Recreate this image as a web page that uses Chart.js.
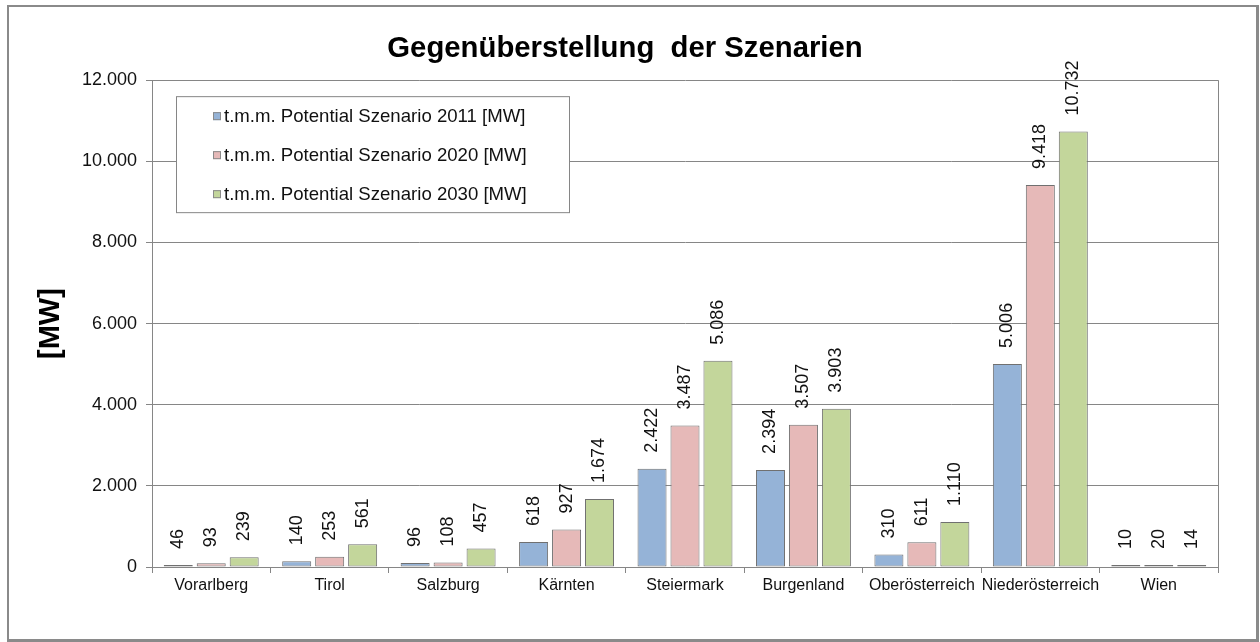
<!DOCTYPE html>
<html>
<head>
<meta charset="utf-8">
<title>Gegenüberstellung der Szenarien</title>
<script src="https://cdn.jsdelivr.net/npm/chart.js@4.4.1/dist/chart.umd.min.js"></script>
<style>
  html, body { margin: 0; padding: 0; background: #fff; }
  #wrap { position: relative; width: 1260px; height: 642px; }
  #frame {
    position: absolute; left: 7px; top: 5px; width: 1252px; height: 637px;
    border: 2px solid #8a8a8a; border-right-width: 3px; border-bottom-width: 3px;
    box-sizing: border-box; pointer-events: none;
  }
</style>
</head>
<body>
<div id="wrap">
  <canvas id="chart"></canvas>
  <div id="frame"></div>
</div>
<script>
// Data
const regions = ['Vorarlberg', 'Tirol', 'Salzburg', 'Kärnten', 'Steiermark', 'Burgenland', 'Oberösterreich', 'Niederösterreich', 'Wien'];
const szenario2011 = [46, 140, 96, 618, 2422, 2394, 310, 5006, 10];
const szenario2020 = [93, 253, 108, 927, 3487, 3507, 611, 9418, 20];
const szenario2030 = [239, 561, 457, 1674, 5086, 3903, 1110, 10732, 14];
const seriesNames = ['t.m.m. Potential Szenario 2011 [MW]', 't.m.m. Potential Szenario 2020 [MW]', 't.m.m. Potential Szenario 2030 [MW]'];
const yTickLabels = ['0', '2.000', '4.000', '6.000', '8.000', '10.000', '12.000'];

const seriesColors = ['#95b3d7', '#e6b9b8', '#c3d69b'];
const lineGrey = '#868686';
const textColor = '#111';

Chart.defaults.font.family = "'Liberation Sans', Arial, sans-serif";

// German thousands separator
const fmt = n => String(n).replace(/\B(?=(\d{3})+(?!\d))/g, '.');

// Right border of the plot area
const plotFrame = {
  id: 'plotFrame',
  beforeDatasetsDraw(chart) {
    const { ctx, chartArea: a } = chart;
    ctx.save();
    ctx.strokeStyle = lineGrey;
    ctx.lineWidth = 1;
    ctx.beginPath();
    ctx.moveTo(Math.round(a.right) + 0.5, a.top);
    ctx.lineTo(Math.round(a.right) + 0.5, a.bottom);
    ctx.stroke();
    ctx.restore();
  }
};

// Rotated value labels above the bars
const valueLabels = {
  id: 'valueLabels',
  afterDatasetsDraw(chart) {
    const { ctx } = chart;
    ctx.save();
    ctx.font = "18px 'Liberation Sans', Arial, sans-serif";
    ctx.fillStyle = textColor;
    ctx.textAlign = 'left';
    ctx.textBaseline = 'middle';
    chart.data.datasets.forEach((ds, i) => {
      chart.getDatasetMeta(i).data.forEach((bar, j) => {
        ctx.save();
        ctx.translate(bar.x, bar.y - 16);
        ctx.rotate(-Math.PI / 2);
        ctx.fillText(fmt(ds.data[j]), 0, 0);
        ctx.restore();
      });
    });
    ctx.restore();
  }
};

// Boxed legend inside the plot area
const boxLegend = {
  id: 'boxLegend',
  afterDraw(chart) {
    const { ctx, chartArea: a } = chart;
    const x = a.left + 24, y = a.top + 16, w = 393, h = 116;
    ctx.save();
    ctx.fillStyle = '#fff';
    ctx.fillRect(x, y, w, h);
    ctx.strokeStyle = lineGrey;
    ctx.lineWidth = 1;
    ctx.strokeRect(x + 0.5, y + 0.5, w, h);
    ctx.font = "18.6px 'Liberation Sans', Arial, sans-serif";
    ctx.textBaseline = 'middle';
    ctx.textAlign = 'left';
    chart.data.datasets.forEach((ds, i) => {
      const cy = y + 20 + i * 39;
      ctx.fillStyle = ds.backgroundColor;
      ctx.fillRect(x + 37, cy - 4, 8, 8);
      ctx.strokeStyle = '#8a8a8a';
      ctx.strokeRect(x + 37.5, cy - 3.5, 7, 7);
      ctx.fillStyle = textColor;
      ctx.fillText(ds.label, x + 48, cy + 1);
    });
    ctx.restore();
  }
};

const series = [szenario2011, szenario2020, szenario2030];

new Chart(document.getElementById('chart'), {
  type: 'bar',
  data: {
    labels: regions,
    datasets: series.map((values, i) => ({
      label: seriesNames[i],
      data: values,
      backgroundColor: seriesColors[i],
      borderColor: '#707070',
      borderWidth: 1,
      borderSkipped: false,
      minBarLength: 2,
      categoryPercentage: 0.835,
      barPercentage: 0.88
    }))
  },
  options: {
    responsive: true,
    maintainAspectRatio: false,
    animation: false,
    layout: { padding: { left: 32, right: 42, top: 0, bottom: 0 } },
    plugins: {
      legend: { display: false },
      tooltip: { enabled: false },
      title: {
        display: true,
        text: 'Gegenüberstellung  der Szenarien',
        color: '#000',
        font: { size: 29.3, weight: 'bold' },
        padding: { top: 31, bottom: 14 }
      }
    },
    scales: {
      x: {
        grid: { drawOnChartArea: false, drawTicks: true, tickLength: 6, color: lineGrey, offset: true },
        border: { color: lineGrey },
        ticks: { color: textColor, font: { size: 16 }, maxRotation: 0, autoSkip: false, padding: 3 },
        afterFit: s => { s.height = 75; }
      },
      y: {
        min: 0,
        max: 12000,
        ticks: {
          stepSize: 2000,
          color: textColor,
          font: { size: 18 },
          padding: 9,
          callback: (v, i) => yTickLabels[i]
        },
        grid: { color: lineGrey, tickLength: 6 },
        border: { color: lineGrey },
        title: {
          display: true,
          text: '[MW]',
          color: '#000',
          font: { size: 29, weight: 'bold' },
          padding: { top: 2, bottom: 0 }
        },
        afterFit: s => { s.width = 120; }
      }
    }
  },
  plugins: [plotFrame, valueLabels, boxLegend]
});
</script>
</body>
</html>
